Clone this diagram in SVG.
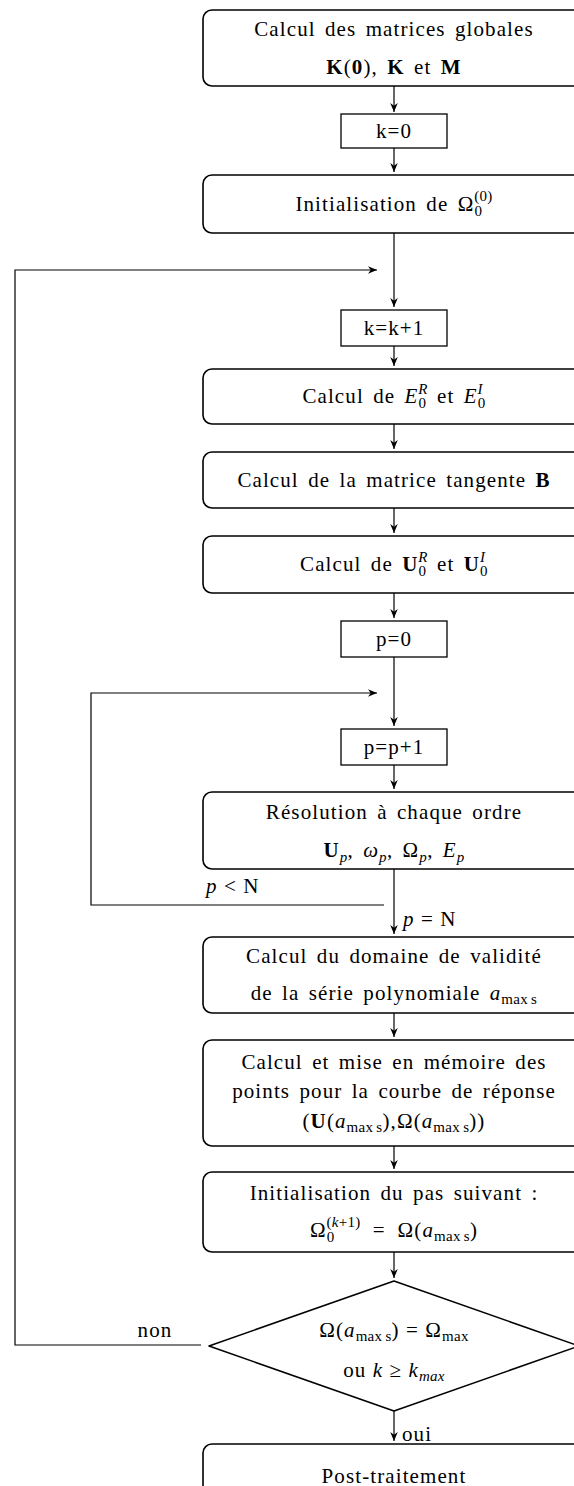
<svg xmlns="http://www.w3.org/2000/svg" width="574" height="1486" viewBox="0 0 574 1486">
<style>
.t{font-family:"Liberation Serif","DejaVu Serif",serif;font-size:21px;fill:#000;text-anchor:middle;letter-spacing:1.1px;word-spacing:3px}
.m{word-spacing:0px}
.l{text-anchor:start}
.i{font-style:italic}
.b{font-weight:bold}
.s{font-size:15px;letter-spacing:0.3px;word-spacing:-1px}
.box{fill:#fff;stroke:#000;stroke-width:1.6}
.rect{fill:#fff;stroke:#000;stroke-width:1.3}
.c{fill:none;stroke:#000;stroke-width:1.2}
</style>
<defs>
<marker id="ah" viewBox="0 0 10 10" refX="10" refY="5" markerUnits="userSpaceOnUse" markerWidth="9" markerHeight="9" orient="auto">
<path d="M0,0.8 L10,5 L0,9.2 L3,5 z" fill="#000"/>
</marker>
</defs>
<g id="connectors">
<path class="c" d="M394,86 V112" marker-end="url(#ah)"/>
<path class="c" d="M394,148 V172" marker-end="url(#ah)"/>
<path class="c" d="M394,233 V307" marker-end="url(#ah)"/>
<path class="c" d="M201,1345 H15 V270 H377" marker-end="url(#ah)"/>
<path class="c" d="M394,346 V366" marker-end="url(#ah)"/>
<path class="c" d="M394,424 V449" marker-end="url(#ah)"/>
<path class="c" d="M394,508 V533" marker-end="url(#ah)"/>
<path class="c" d="M394,593 V618" marker-end="url(#ah)"/>
<path class="c" d="M394,657 V726" marker-end="url(#ah)"/>
<path class="c" d="M384,905 H91 V693 H377" marker-end="url(#ah)"/>
<path class="c" d="M394,765 V789" marker-end="url(#ah)"/>
<path class="c" d="M394,869 V934" marker-end="url(#ah)"/>
<path class="c" d="M394,1013 V1037" marker-end="url(#ah)"/>
<path class="c" d="M394,1146 V1169" marker-end="url(#ah)"/>
<path class="c" d="M394,1252 V1278" marker-end="url(#ah)"/>
<path class="c" d="M394,1411 V1441" marker-end="url(#ah)"/>
<text class="t" x="155" y="1337">non</text>
<text class="t l" x="402" y="1441">oui</text>
<text class="t l m" x="206" y="893"><tspan class="i">p</tspan> &lt; N</text>
<text class="t l m" x="403" y="926"><tspan class="i">p</tspan> = N</text>
</g>
<g id="n1">
<rect class="box" x="203" y="10" width="383" height="76" rx="9"/>
<text class="t" x="394" y="36">Calcul des matrices globales</text>
<text class="t" x="394" y="74"><tspan class="b">K</tspan>(<tspan class="b">0</tspan>), <tspan class="b">K</tspan> et <tspan class="b">M</tspan></text>
</g>
<g id="n2">
<rect class="rect" x="341" y="114" width="106" height="34"/>
<text class="t" x="394" y="138">k=0</text>
</g>
<g id="n3">
<rect class="box" x="203" y="175" width="383" height="58" rx="9"/>
<text class="t" x="394" y="211">Initialisation de Ω<tspan class="s" dy="5">0</tspan><tspan class="s" dx="-8" dy="-15">(0)</tspan></text>
</g>
<g id="n4">
<rect class="rect" x="341" y="310" width="106" height="36"/>
<text class="t" x="394" y="335">k=k+1</text>
</g>
<g id="n5">
<rect class="box" x="203" y="369" width="383" height="55" rx="9"/>
<text class="t" x="394" y="403">Calcul de <tspan class="i">E</tspan><tspan class="s" dy="5">0</tspan><tspan class="s i" dx="-8" dy="-14">R</tspan><tspan dy="9"> et </tspan><tspan class="i">E</tspan><tspan class="s" dy="5">0</tspan><tspan class="s i" dx="-8" dy="-14">I</tspan></text>
</g>
<g id="n6">
<rect class="box" x="203" y="452" width="383" height="56" rx="9"/>
<text class="t" x="394" y="487">Calcul de la matrice tangente <tspan class="b">B</tspan></text>
</g>
<g id="n7">
<rect class="box" x="203" y="536" width="383" height="57" rx="9"/>
<text class="t" x="394" y="571">Calcul de <tspan class="b">U</tspan><tspan class="s" dy="5">0</tspan><tspan class="s i" dx="-8" dy="-14">R</tspan><tspan dy="9"> et </tspan><tspan class="b">U</tspan><tspan class="s" dy="5">0</tspan><tspan class="s i" dx="-8" dy="-14">I</tspan></text>
</g>
<g id="n8">
<rect class="rect" x="341" y="621" width="106" height="36"/>
<text class="t" x="394" y="646">p=0</text>
</g>
<g id="n9">
<rect class="rect" x="341" y="729" width="106" height="36"/>
<text class="t" x="394" y="754">p=p+1</text>
</g>
<g id="n10">
<rect class="box" x="203" y="792" width="383" height="77" rx="9"/>
<text class="t" x="394" y="819">Résolution à chaque ordre</text>
<text class="t" x="394" y="857"><tspan class="b">U</tspan><tspan class="s i" dy="5">p</tspan><tspan dy="-5">, </tspan><tspan class="i">ω</tspan><tspan class="s i" dy="5">p</tspan><tspan dy="-5">, Ω</tspan><tspan class="s i" dy="5">p</tspan><tspan dy="-5">, </tspan><tspan class="i">E</tspan><tspan class="s i" dy="5">p</tspan></text>
</g>
<g id="n11">
<rect class="box" x="203" y="937" width="383" height="76" rx="9"/>
<text class="t" x="394" y="963">Calcul du domaine de validité</text>
<text class="t" x="394" y="1000">de la série polynomiale <tspan class="i">a</tspan><tspan class="s" dy="4">max s</tspan></text>
</g>
<g id="n12">
<rect class="box" x="203" y="1040" width="383" height="106" rx="9"/>
<text class="t" x="394" y="1069">Calcul et mise en mémoire des</text>
<text class="t" x="394" y="1098">points pour la courbe de réponse</text>
<text class="t m" x="394" y="1128">(<tspan class="b">U</tspan>(<tspan class="i">a</tspan><tspan class="s" dy="4">max s</tspan><tspan dy="-4">),Ω(</tspan><tspan class="i">a</tspan><tspan class="s" dy="4">max s</tspan><tspan dy="-4">))</tspan></text>
</g>
<g id="n13">
<rect class="box" x="203" y="1172" width="383" height="80" rx="9"/>
<text class="t" x="394" y="1200">Initialisation du pas suivant :</text>
<text class="t m" x="394" y="1237">Ω<tspan class="s" dy="5">0</tspan><tspan class="s" dx="-8" dy="-15">(<tspan class="i">k</tspan>+1)</tspan><tspan dx="12" dy="10">=</tspan><tspan dx="12">Ω(</tspan><tspan class="i">a</tspan><tspan class="s" dy="4">max s</tspan><tspan dy="-4">)</tspan></text>
</g>
<g id="n14">
<path class="box" stroke-linejoin="round" d="M394,1281 L579,1346 L394,1411 L209,1346 Z"/>
<text class="t m" x="394" y="1337">Ω(<tspan class="i">a</tspan><tspan class="s" dy="4">max s</tspan><tspan dy="-4">) = Ω</tspan><tspan class="s" dy="4">max</tspan></text>
<text class="t m" x="394" y="1377">ou <tspan class="i">k</tspan> ≥ <tspan class="i">k</tspan><tspan class="s i" dy="4">max</tspan></text>
</g>
<g id="n15">
<rect class="box" x="203" y="1444" width="383" height="66" rx="9"/>
<text class="t" x="394" y="1483">Post-traitement</text>
</g>
</svg>
